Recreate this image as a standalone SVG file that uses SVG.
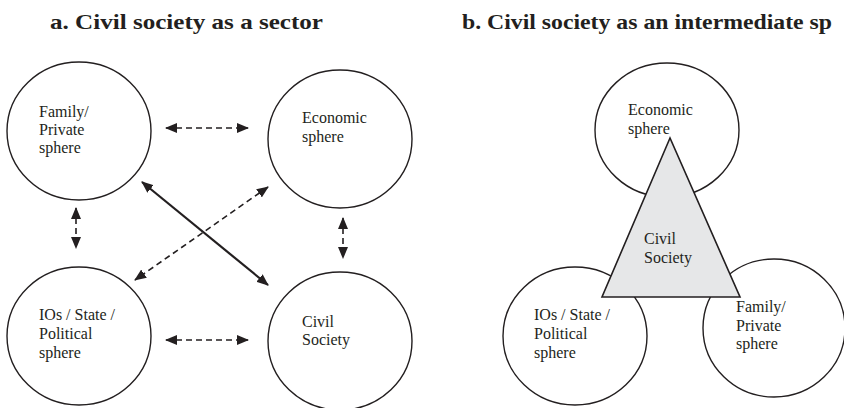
<svg xmlns="http://www.w3.org/2000/svg" width="844" height="408" viewBox="0 0 844 408">
<defs>
<marker id="ah" markerUnits="userSpaceOnUse" markerWidth="12" markerHeight="10" refX="11" refY="5" orient="auto-start-reverse" viewBox="0 0 12 10">
<path d="M0,0 L12,5 L0,10 Z" fill="#231f20"/>
</marker>
<style>
.c{fill:#fff;stroke:#231f20;stroke-width:1.4}
.t{font-family:"Liberation Serif","Times New Roman",serif;font-size:16px;fill:#231f20}
.h{font-family:"Liberation Serif","Times New Roman",serif;font-size:21px;font-weight:bold;fill:#231f20}
.d{stroke:#231f20;stroke-width:1.6;stroke-dasharray:6 4;fill:none}
.s{stroke:#231f20;stroke-width:2.2;fill:none}
</style>
</defs>
<rect width="844" height="408" fill="#fff"/>
<text class="h" x="50" y="29" textLength="273" lengthAdjust="spacingAndGlyphs">a. Civil society as a sector</text>
<text class="h" x="462" y="29" textLength="370" lengthAdjust="spacingAndGlyphs">b. Civil society as an intermediate sp</text>

<g id="a-family">
<ellipse class="c" cx="79" cy="131" rx="72" ry="69"/>
<text class="t" x="39" y="117">Family/</text>
<text class="t" x="39" y="135">Private</text>
<text class="t" x="39" y="153">sphere</text>
</g>
<g id="a-economic">
<ellipse class="c" cx="340" cy="139" rx="72" ry="69"/>
<text class="t" x="302" y="123">Economic</text>
<text class="t" x="302" y="142">sphere</text>
</g>
<g id="a-state">
<ellipse class="c" cx="79" cy="336" rx="72" ry="69"/>
<text class="t" x="39" y="320">IOs / State /</text>
<text class="t" x="39" y="339">Political</text>
<text class="t" x="39" y="358">sphere</text>
</g>
<g id="a-civil">
<ellipse class="c" cx="340" cy="341" rx="72" ry="69"/>
<text class="t" x="302" y="327">Civil</text>
<text class="t" x="302" y="345">Society</text>
</g>

<g id="connectors">
<line class="d" x1="166" y1="128" x2="248" y2="128" marker-start="url(#ah)" marker-end="url(#ah)"/>
<line class="d" x1="166" y1="340" x2="248" y2="340" marker-start="url(#ah)" marker-end="url(#ah)"/>
<line class="d" x1="76" y1="208" x2="76" y2="248" marker-start="url(#ah)" marker-end="url(#ah)"/>
<line class="d" x1="343" y1="218" x2="343" y2="258" marker-start="url(#ah)" marker-end="url(#ah)"/>
<line class="d" x1="268" y1="187" x2="135" y2="280" marker-start="url(#ah)" marker-end="url(#ah)"/>
<line class="s" x1="142" y1="182" x2="268" y2="285" marker-start="url(#ah)" marker-end="url(#ah)"/>
</g>

<g id="b-economic">
<ellipse class="c" cx="667" cy="130" rx="72" ry="67"/>
<text class="t" x="628" y="115">Economic</text>
<text class="t" x="628" y="134">sphere</text>
</g>
<g id="b-state">
<ellipse class="c" cx="575" cy="336" rx="72" ry="69"/>
<text class="t" x="534" y="320">IOs / State /</text>
<text class="t" x="534" y="339">Political</text>
<text class="t" x="534" y="358">sphere</text>
</g>
<g id="b-family">
<ellipse class="c" cx="774" cy="328" rx="71" ry="69"/>
<text class="t" x="736" y="312">Family/</text>
<text class="t" x="736" y="331">Private</text>
<text class="t" x="736" y="349">sphere</text>
</g>
<g id="b-civil">
<polygon points="670,138 602,297 740,297" fill="#e6e7e8" stroke="#231f20" stroke-width="1.6" stroke-linejoin="miter"/>
<text class="t" x="644" y="244">Civil</text>
<text class="t" x="644" y="263">Society</text>
</g>
</svg>
